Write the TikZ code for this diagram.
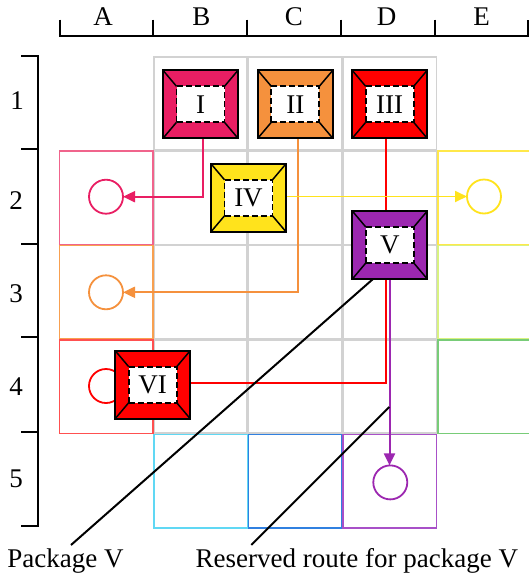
\documentclass[tikz,border=0pt]{standalone}
\usepackage{fontspec}
\setmainfont{Liberation Serif}
\usetikzlibrary{arrows.meta,calc}
\pgfdeclarelayer{back}
\pgfdeclarelayer{mid}
\pgfsetlayers{back,mid,main}
\definecolor{cpink}{HTML}{E91E63}
\definecolor{corange}{HTML}{F5913D}
\definecolor{cred}{HTML}{FF0000}
\definecolor{cyellow}{HTML}{FFE31C}
\definecolor{cpurple}{HTML}{9C27B0}
\definecolor{cgray}{HTML}{D2D2D2}
\definecolor{eApink}{HTML}{F0648C}
\definecolor{eAorange}{HTML}{F8A050}
\definecolor{eAred}{HTML}{FF5050}
\definecolor{eEyellow}{HTML}{FFE84A}
\definecolor{eElime}{HTML}{D8F280}
\definecolor{eEgreen}{HTML}{78CC78}
\definecolor{eBcyan}{HTML}{60D8F4}
\definecolor{eCblue}{HTML}{3080E0}
\definecolor{eDpurple}{HTML}{A850C8}
\newcommand\pkgbox[4]{%
  \node[pkgouter, fill=#3] (#1) at (#2) {};
  \node[pkginner] (#1in) at (#2) {#4};
  \draw[pkgdiag] (#1.north west) -- (#1in.north west)
                 (#1.north east) -- (#1in.north east)
                 (#1.south west) -- (#1in.south west)
                 (#1.south east) -- (#1in.south east);
  \node[pkgouter] at (#2) {};
  \node[pkginner] at (#2) {#4};
}
\begin{document}
\begin{tikzpicture}[x=1pt,y=-1pt,
  txt/.style={font=\fontsize{27}{31}\selectfont, inner sep=0pt, outer sep=0pt},
  ruler/.style={line width=2pt, black},
  graycell/.style={draw=cgray, line width=1.8pt},
  colcell/.style={line width=1.6pt},
  pkgouter/.style={draw=black, line width=2pt, minimum width=75pt, minimum height=68pt, inner sep=0pt, outer sep=0pt},
  pkginner/.style={draw=black, fill=white, line width=1.8pt, dash pattern=on 6pt off 3pt, minimum width=48pt, minimum height=36pt, inner sep=0pt, outer sep=0pt, font=\fontsize{27}{31}\selectfont},
  pkgdiag/.style={line width=1.5pt, black},
  target/.style={circle, minimum size=34pt, inner sep=0pt, outer sep=0pt, line width=1.8pt},
  route/.style={line width=2pt, -{Triangle[length=12pt,width=11pt]}},
  callout/.style={line width=2pt, black}
]
\useasboundingbox (0,0) rectangle (529,574);

% packages (front layer)
\pkgbox{bI}{200.5,104.3}{cpink}{I}
\pkgbox{bII}{295.3,104.3}{corange}{II}
\pkgbox{bIII}{389.7,104.3}{cred}{III}
\pkgbox{bIV}{248.5,197.8}{cyellow}{IV}
\pkgbox{bV}{389.8,245}{cpurple}{V}
\pkgbox{bVI}{152.7,384.7}{cred}{VI}

% rulers
\draw[ruler] (59.7,19.6) -- (59.7,36.4) -- (528,36.4) -- (528,19.6);
\foreach \x in {152.5,247.3,341.4,435.2} \draw[ruler] (\x,19.6) -- (\x,36.4);
\draw[ruler] (21,55.7) -- (38,55.7) -- (38,525.6) -- (21,525.6);
\foreach \y in {149.3,243.7,336.7,432.2} \draw[ruler] (21,\y) -- (38,\y);

\node[txt] (colA) at (103,16.4) {A};
\node[txt] (colB) at (201.5,16.4) {B};
\node[txt] (colC) at (294,16.4) {C};
\node[txt] (colD) at (386.5,16.4) {D};
\node[txt] (colE) at (481.5,16.4) {E};
\node[txt] (row1) at (17,101) {1};
\node[txt] (row2) at (16,200.5) {2};
\node[txt] (row3) at (16,294) {3};
\node[txt] (row4) at (16,387) {4};
\node[txt] (row5) at (16,479) {5};

% labels
\node[txt, anchor=base west] (lblV) at (7.4,567.5) {Package V};
\node[txt, anchor=base west] (lblR) at (195.7,567.5) {Reserved route for package V};

\begin{pgfonlayer}{back}
\fill[white] (0,0) rectangle (529,574);
\foreach \c in {1,2,3} \foreach \r in {0,1,2,3}
  \draw[graycell] ({59.3+94.6*\c},{56.7+94.4*\r}) rectangle ++(93.4,93.4);
\draw[colcell, draw=eApink]   (59.3,151.1) rectangle ++(93.4,93.4);
\draw[colcell, draw=eAorange] (59.3,245.5) rectangle ++(93.4,93.4);
\draw[colcell, draw=eAred]    (59.3,339.9) rectangle ++(93.4,93.4);
\draw[colcell, draw=eEyellow] (437.7,151.1) rectangle ++(93.4,93.4);
\draw[colcell, draw=eElime]   (437.7,245.5) rectangle ++(93.4,93.4);
\draw[colcell, draw=eEgreen]  (437.7,339.9) rectangle ++(93.4,93.4);
\draw[colcell, draw=eBcyan]   (153.9,434.3) rectangle ++(93.4,93.4);
\draw[colcell, draw=eCblue]   (248.5,434.3) rectangle ++(93.4,93.4);
\draw[colcell, draw=eDpurple] (343.1,434.3) rectangle ++(93.4,93.4);
\end{pgfonlayer}

\begin{pgfonlayer}{mid}
% targets
\node[target, draw=cpink]   (tA2) at (106,196.7) {};
\node[target, draw=corange] (tA3) at (106,292.3) {};
\node[target, draw=cred]    (tA4) at (106,386) {};
\node[target, draw=cyellow] (tE2) at (484,196.5) {};
\node[target, draw=cpurple] (tD5) at (390.3,482.4) {};

% routes
\draw[route, draw=cpink] ($(bI.south)+(2.5,0)$) |- (tA2.east);
\draw[route, draw=corange] ($(bII.south)+(2.4,0)$) |- (tA3.east);
\draw[line width=2pt, draw=cred] ($(bIII.south)+(-3.5,0)$) |- ($(bVI.east)+(0,-2.2)$);
\draw[route, line width=1.8pt, draw=cyellow] (tE2.west -| bIV.east) -- (tE2.west);
\draw[route, draw=cpurple] ($(bV.south)+(-0.3,0)$) -- ($(bV.south |- tD5.north)+(-0.3,0)$);

% callouts
\coordinate (pvEnd) at (71,545);
\coordinate (rrStart) at (389.3,407);
\coordinate (rrEnd) at (251.3,545);
\draw[callout] ($(bV.south)+(-16.8,0)$) -- (pvEnd);
\draw[callout] (rrStart) -- (rrEnd);
\end{pgfonlayer}
\end{tikzpicture}
\end{document}
